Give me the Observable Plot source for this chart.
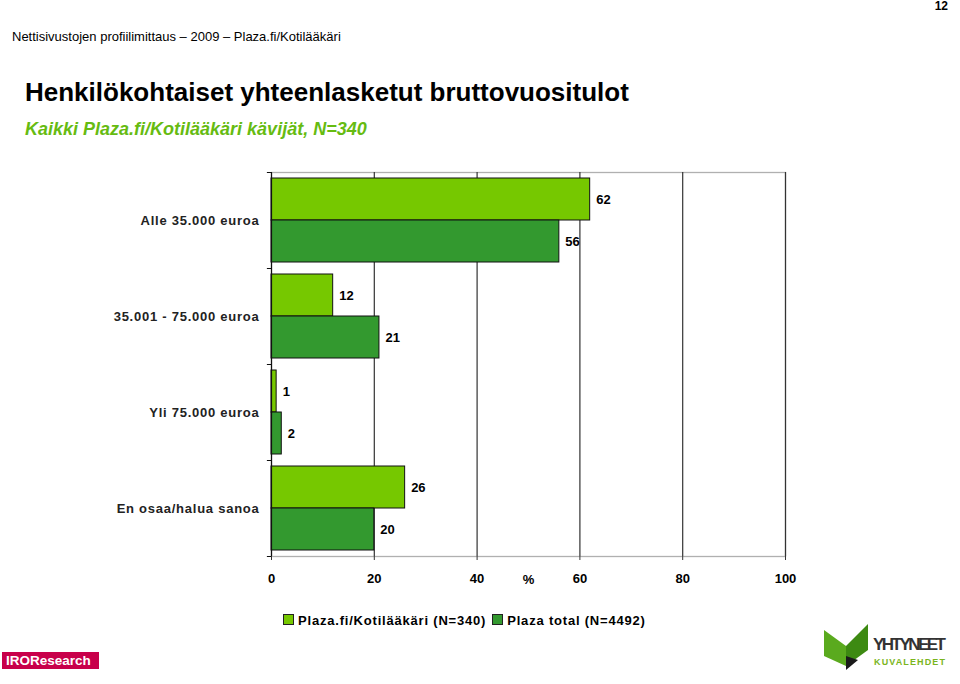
<!DOCTYPE html>
<html>
<head>
<meta charset="utf-8">
<script src="https://cdn.jsdelivr.net/npm/d3@7"></script>
<script src="https://cdn.jsdelivr.net/npm/@observablehq/plot@0.6"></script>
<style>
  html, body { margin: 0; padding: 0; background: #fff; }
  body { width: 960px; height: 684px; position: relative; overflow: hidden; font-family: "Liberation Sans", Arial, sans-serif; }
  .abs { position: absolute; white-space: nowrap; }
  #chart { position: absolute; left: 0; top: 0; }
</style>
</head>
<body>
<div class="abs" style="right:12px; top:-1px; font-size:12px; font-weight:bold;">12</div>
<div class="abs" style="left:12px; top:29px; font-size:13px;">Nettisivustojen profiilimittaus – 2009 – Plaza.fi/Kotilääkäri</div>
<div class="abs" style="left:25px; top:77px; font-size:26px; font-weight:bold; color:#000;">Henkilökohtaiset yhteenlasketut bruttovuositulot</div>
<div class="abs" style="left:25px; top:119px; font-size:18px; font-style:italic; font-weight:bold; color:#66bb11;">Kaikki Plaza.fi/Kotilääkäri kävijät, N=340</div>
<div id="chart"></div>
<div class="abs" id="legend" style="left:283px; top:613px; font-size:13px; letter-spacing:0.8px;"></div>
<div class="abs" style="left:2px; top:652px; width:97px; height:17px; background:#c8004a; color:#fff; font-size:13.5px; font-weight:bold; line-height:17px; padding-left:4px; box-sizing:border-box;">IROResearch</div>
<svg class="abs" style="left:820px; top:620px;" width="140" height="60">
  <polygon points="4,10 26,26 26,46 4,36" fill="#5aaa1e"/>
  <polygon points="26,26 48,4 48,30 26,46" fill="#3d8a12"/>
  <polygon points="26,36 38,40 26,50" fill="#1a1a1a"/>
  <text x="53" y="30" font-size="17" font-weight="bold" fill="#333" font-family="Liberation Sans Narrow, Liberation Sans, Arial" textLength="73">YHTYNEET</text>
  <text x="54" y="45" font-size="9" font-weight="bold" fill="#7ab51d" font-family="Liberation Sans, Arial" textLength="71">KUVALEHDET</text>
</svg>
<script>
const categories = ["Alle 35.000 euroa", "35.001 - 75.000 euroa", "Yli 75.000 euroa", "En osaa/halua sanoa"];
const seriesNames = ["Plaza.fi/Kotilääkäri (N=340)", "Plaza total (N=4492)"];
const kotilaakari = [62, 12, 1, 26];
const plazaTotal = [56, 21, 2, 20];
const xTicks = [0, 20, 40, 60, 80, 100];
const gridTicks = [20, 40, 60, 80, 100];
const colors = ["#76c800", "#33992f"];

const data1 = categories.map((c, i) => ({category: c, value: kotilaakari[i]}));
const data2 = categories.map((c, i) => ({category: c, value: plazaTotal[i]}));

const font = "Liberation Sans, Arial, sans-serif";

const chart = Plot.plot({
  width: 960,
  height: 640,
  marginLeft: 271,
  marginRight: 175,
  marginTop: 172,
  marginBottom: 84,
  style: {fontFamily: font, fontSize: "13px", color: "#000", background: "transparent", overflow: "visible"},
  x: {type: "linear", domain: [0, 100], label: null},
  y: {type: "band", domain: categories, padding: 0, label: null},
  marks: [
    Plot.frame({stroke: "#b0b0b0", strokeWidth: 1.3}),
    Plot.ruleX(gridTicks, {stroke: "#333", strokeWidth: 1.2}),
    Plot.barX(data1, {x: "value", y: "category", fill: colors[0], stroke: "#111", strokeWidth: 1, insetTop: 6, insetBottom: 48}),
    Plot.barX(data2, {x: "value", y: "category", fill: colors[1], stroke: "#111", strokeWidth: 1, insetTop: 48, insetBottom: 6}),
    Plot.text(data1, {x: "value", y: "category", text: d => String(d.value), dx: 6, dy: -21, textAnchor: "start", fontSize: 13, fill: "#000", fontWeight: "bold"}),
    Plot.text(data2, {x: "value", y: "category", text: d => String(d.value), dx: 6, dy: 21, textAnchor: "start", fontSize: 13, fill: "#000", fontWeight: "bold"}),
    Plot.ruleX([0], {stroke: "#111", strokeWidth: 1.2}),
    Plot.ruleY(categories, {y: d => d, x1: -0.8, x2: 0, dy: -48, stroke: "#111", clip: false}),
    Plot.ruleY(categories.slice(-1), {y: d => d, x1: -0.8, x2: 0, dy: 48, stroke: "#111", clip: false}),
    Plot.axisX({ticks: xTicks, tickSize: 4, tickPadding: 13, label: null, fontSize: 13, fontWeight: "bold", stroke: "#333"}),
    Plot.axisY({tickSize: 0, tickPadding: 12, label: null, fontSize: 13, fontWeight: "bold", fill: "#222"}),
    Plot.text(["%"], {frameAnchor: "bottom", x: 50, text: d => d, dy: 27, fontSize: 13, fontWeight: "bold"})
  ]
});
document.getElementById("chart").appendChild(chart);
chart.querySelectorAll('[aria-label="y-axis tick label"] text').forEach(t => t.setAttribute("letter-spacing", "0.75px"));

const legend = document.getElementById("legend");
legend.innerHTML = seriesNames.map((n, i) =>
  `<span style="display:inline-block;width:9px;height:9px;background:${colors[i]};border:1px solid #222;margin-right:4px;vertical-align:0px;"></span><span style="font-weight:bold;margin-right:6px;">${n}</span>`
).join("");
</script>
</body>
</html>
